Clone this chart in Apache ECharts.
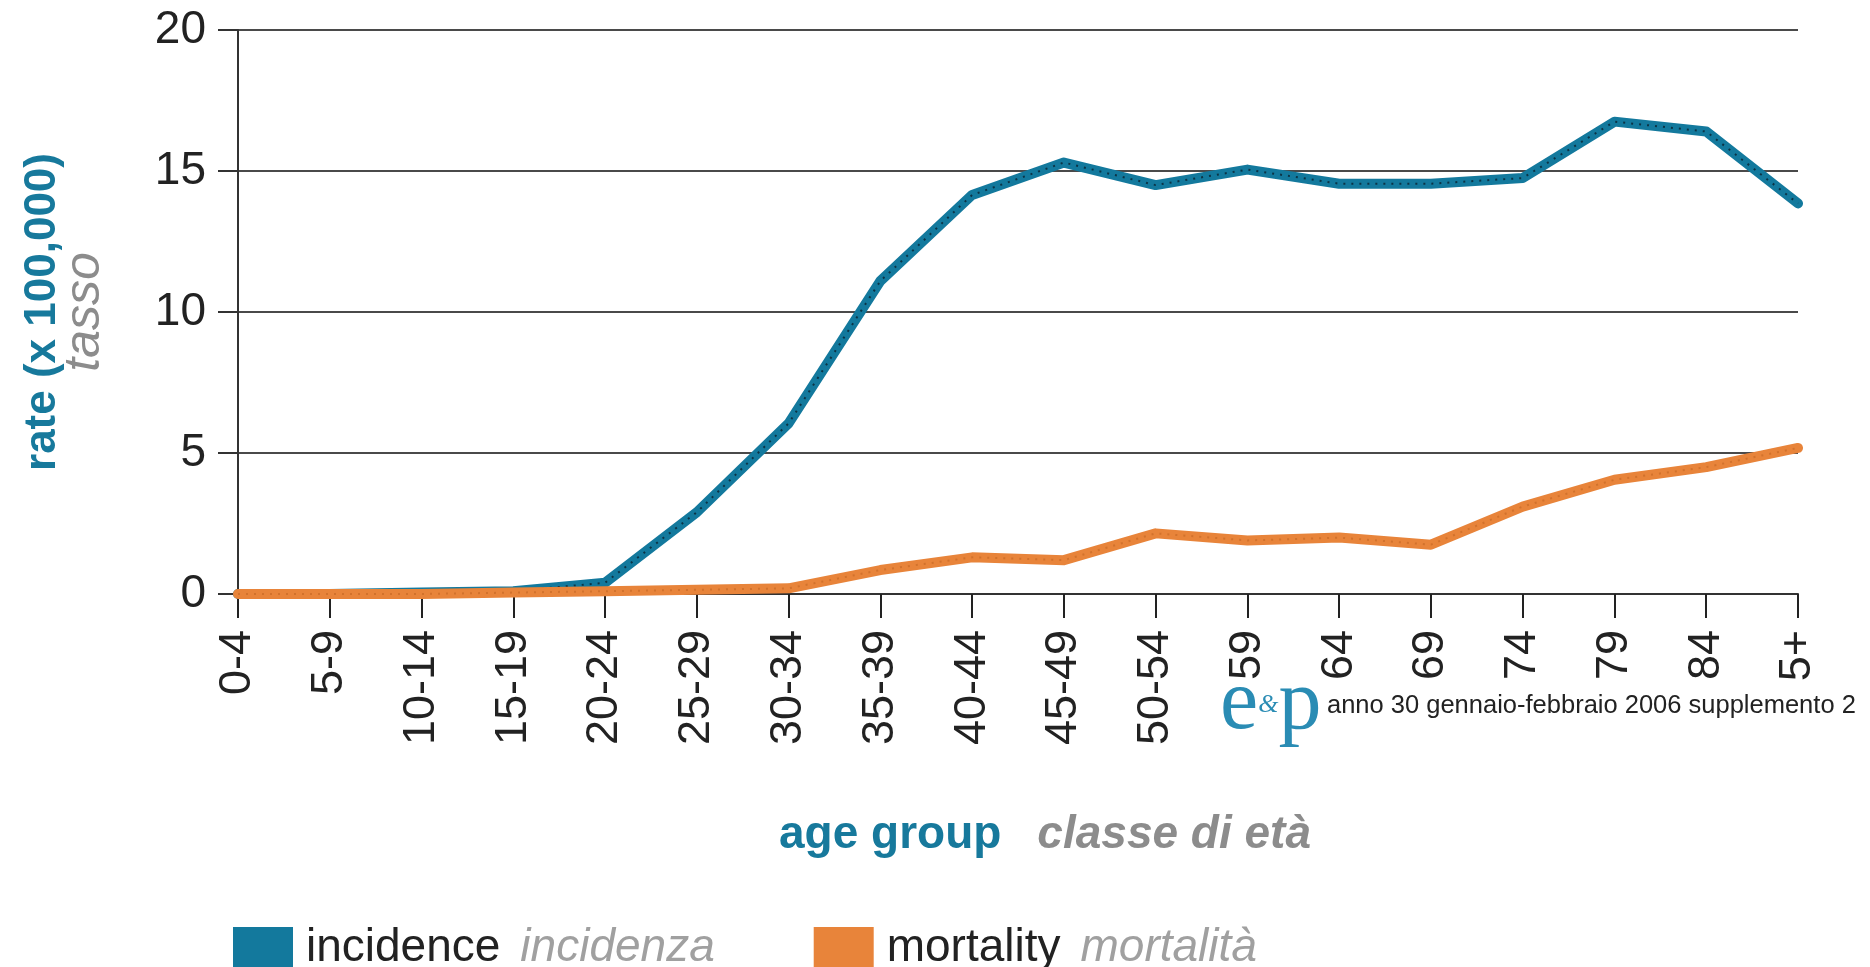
<!DOCTYPE html>
<html>
<head>
<meta charset="utf-8">
<script src="https://cdn.jsdelivr.net/npm/echarts@6/dist/echarts.min.js"></script>
<style>
html,body{margin:0;padding:0;background:#fff;}
#chart{width:1870px;height:967px;}
</style>
</head>
<body>
<div id="chart"></div>
<script>
var categories = ['0-4','5-9','10-14','15-19','20-24','25-29','30-34','35-39','40-44','45-49','50-54','55-59','60-64','65-69','70-74','75-79','80-84','85+'];
var incidence = [0, 0, 0.05, 0.1, 0.4, 2.9, 6.05, 11.1, 14.15, 15.3, 14.5, 15.05, 14.55, 14.55, 14.75, 16.75, 16.4, 13.85];
var mortality = [0, 0, 0, 0.05, 0.1, 0.15, 0.2, 0.85, 1.3, 1.2, 2.15, 1.9, 2.0, 1.75, 3.1, 4.05, 4.5, 5.18];
var yTicks = [0, 5, 10, 15, 20];
var seriesNames = ['incidence', 'mortality'];
var seriesNamesIt = ['incidenza', 'mortalità'];

var FONT = 'Liberation Sans, Arial, Helvetica, sans-serif';
var SERIF = 'Liberation Serif, DejaVu Serif, serif';
var BLUE = '#13799d';
var ORANGE = '#e8843a';

var chart = echarts.init(document.getElementById('chart'));
chart.setOption({
  animation: false,
  backgroundColor: '#fff',
  grid: {left: 238, right: 72, top: 30, bottom: 373, containLabel: false},
  xAxis: {
    type: 'category',
    data: categories,
    boundaryGap: false,
    axisLine: {lineStyle: {color: '#333', width: 2}},
    axisTick: {show: true, length: 24, alignWithLabel: true, lineStyle: {color: '#222', width: 2}},
    axisLabel: {rotate: 90, margin: 36, fontSize: 45, color: '#222', fontFamily: FONT, interval: 0},
    name: '{a|age group}{b|classe di età}',
    nameLocation: 'middle',
    nameGap: 218,
    nameTextStyle: {
      padding: [0, 0, 0, 54],
      rich: {
        a: {fontSize: 46, fontWeight: 'bold', color: '#17799c', fontFamily: FONT},
        b: {fontSize: 46, fontStyle: 'italic', fontWeight: 'bold', color: '#8c8c8c', fontFamily: FONT, padding: [0, 0, 0, 36]}
      }
    }
  },
  yAxis: {
    type: 'value',
    min: 0, max: 20, interval: 5,
    axisLine: {show: true, lineStyle: {color: '#333', width: 2}},
    axisTick: {show: true, length: 20, lineStyle: {color: '#333', width: 2}},
    axisLabel: {
      margin: 32, fontSize: 46, color: '#222', fontFamily: FONT,
      formatter: function (v) { return yTicks.indexOf(v) >= 0 ? String(v) : ''; }
    },
    splitLine: {show: true, lineStyle: {color: '#4a4a4a', width: 2}},
    name: '{r|rate (x 100,000)}\n{t|tasso}',
    nameLocation: 'middle',
    nameGap: 132,
    nameTextStyle: {
      align: 'center',
      rich: {
        r: {fontSize: 44, fontWeight: 'bold', color: '#17799c', fontFamily: FONT, lineHeight: 42, align: 'center'},
        t: {fontSize: 50, fontStyle: 'italic', color: '#8c8c8c', fontFamily: FONT, lineHeight: 42, align: 'center'}
      }
    }
  },
  legend: {
    data: seriesNames,
    left: 228,
    top: 920,
    icon: 'rect',
    itemWidth: 60,
    itemHeight: 42,
    itemGap: 99,
    formatter: function (name) {
      var i = seriesNamesIt[seriesNames.indexOf(name)];
      return '{a|' + name + '}{b|' + i + '}';
    },
    textStyle: {
      rich: {
        a: {fontSize: 46, color: '#222', fontFamily: FONT, padding: [0, 0, 0, 8]},
        b: {fontSize: 46, fontStyle: 'italic', color: '#a0a0a0', fontFamily: FONT, padding: [0, 0, 0, 20]}
      }
    }
  },
  series: [
    {
      name: seriesNames[0], type: 'line', data: incidence, symbol: 'none', z: 3,
      itemStyle: {color: BLUE},
      lineStyle: {color: BLUE, width: 10, cap: 'round', join: 'round'}
    },
    {
      name: seriesNames[0] + ' dots', type: 'line', data: incidence, symbol: 'none', z: 3, silent: true,
      lineStyle: {color: 'rgba(10,40,55,0.85)', width: 2, type: [2, 6]}
    },
    {
      name: seriesNames[1], type: 'line', data: mortality, symbol: 'none', z: 4,
      itemStyle: {color: ORANGE},
      lineStyle: {color: ORANGE, width: 10, cap: 'round', join: 'round'}
    },
    {
      name: seriesNames[1] + ' dots', type: 'line', data: mortality, symbol: 'none', z: 4, silent: true,
      lineStyle: {color: 'rgba(170,80,20,0.35)', width: 2, type: [2, 6]}
    }
  ],
  graphic: [
    {
      type: 'rect', left: 1182, top: 680, z: 100,
      shape: {width: 688, height: 70},
      style: {fill: '#fff'}
    },
    {
      type: 'text', left: 1220, top: 662, z: 101,
      style: {
        text: '{e|e}{amp|&}{p|p}',
        rich: {
          e: {fontSize: 86, fontFamily: SERIF, fill: '#2a8cb4'},
          amp: {fontSize: 26, fontStyle: 'italic', fontFamily: SERIF, fill: '#2a8cb4'},
          p: {fontSize: 86, fontFamily: SERIF, fill: '#2a8cb4'}
        }
      }
    },
    {
      type: 'text', left: 1327, top: 693, z: 101,
      style: {text: 'anno 30 gennaio-febbraio 2006 supplemento 2', fontSize: 25.5, fontFamily: FONT, fill: '#222'}
    }
  ]
});
</script>
</body>
</html>
